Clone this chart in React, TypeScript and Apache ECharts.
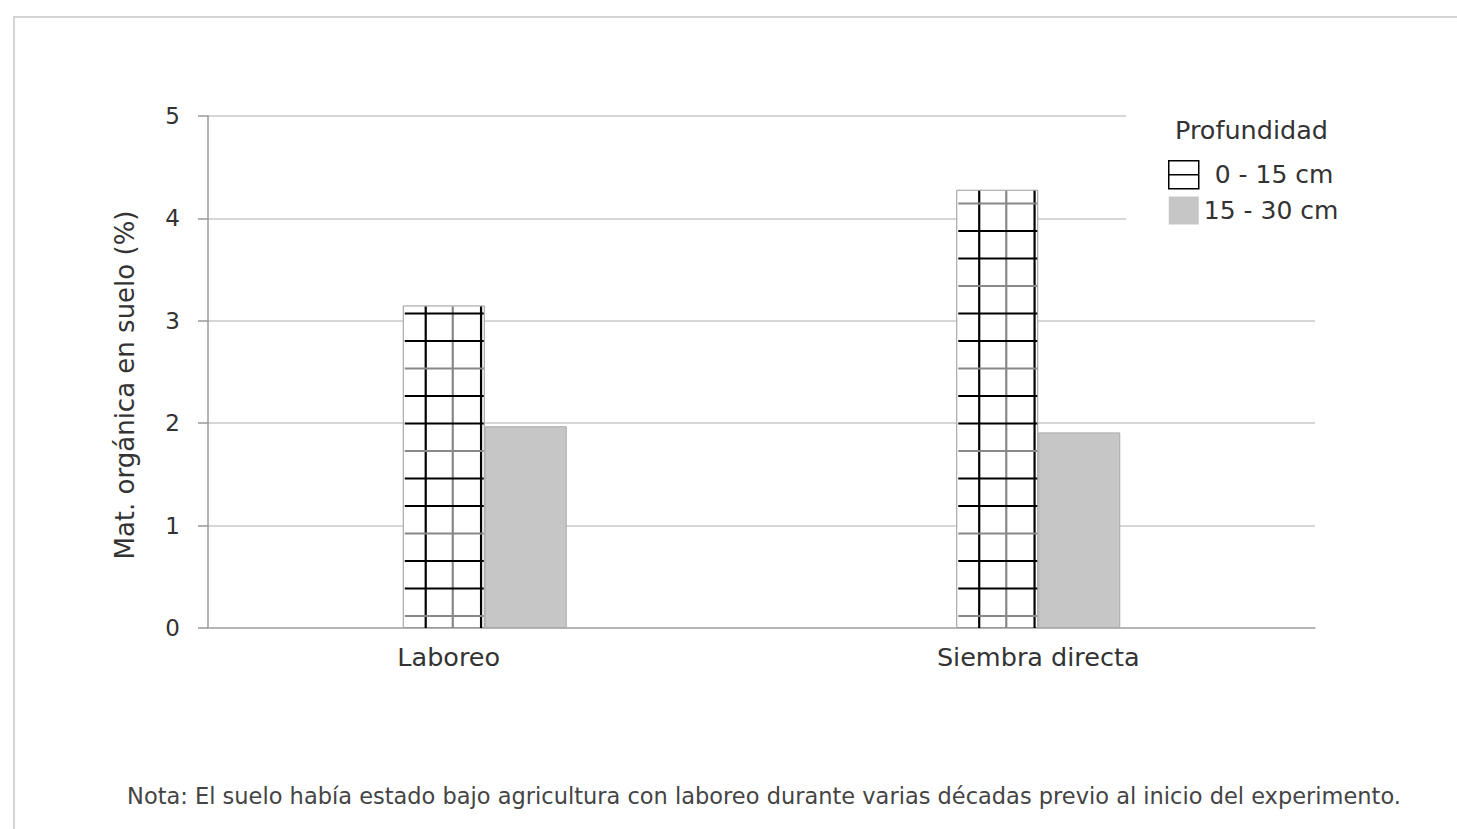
import React, { useEffect, useRef } from "react";
import * as echarts from "echarts";

const categories = ["Laboreo", "Siembra directa"];
const categoryLabelShift = [72, 0];
const depth0to15 = [3.15, 4.28];
const depth15to30 = [1.97, 1.91];
const seriesNames = ["0 - 15 cm", "15 - 30 cm"];
const yTicks = { min: 0, max: 5, interval: 1 };
const yAxisName = "Mat. orgánica en suelo (%)";
const legendTitle = "Profundidad";
const note =
  "Nota: El suelo había estado bajo agricultura con laboreo durante varias décadas previo al inicio del experimento.";

const FONT = "'DejaVu Sans', sans-serif";
const BAR_W = 82;

export default function App() {
  const ref = useRef<HTMLDivElement>(null);
  useEffect(() => {
    if (!ref.current) return;
    const chart = echarts.init(ref.current, undefined, { renderer: "svg" });
    const option: any = {
      animation: false,
      backgroundColor: "#ffffff",
      textStyle: { fontFamily: FONT },
      grid: { left: 208, right: 142, top: 116, bottom: 201, containLabel: false },
      title: {
        text: legendTitle,
        left: 1170,
        top: 112,
        textStyle: { fontFamily: FONT, fontSize: 25.5, fontWeight: "normal", color: "#333" },
        z: 10,
      },
      legend: {
        orient: "vertical",
        left: 1163,
        top: 155,
        itemWidth: 30,
        itemHeight: 28,
        itemGap: 7,
        z: 10,
        textStyle: { fontFamily: FONT, fontSize: 25, color: "#333" },
        data: [
          {
            name: seriesNames[0],
            icon: "path://M0,0H30V28H0Z M0,14H30",
            itemStyle: { color: "#ffffff", borderColor: "#000", borderWidth: 1.5 },
            textStyle: { padding: [0, 0, 0, 11] },
          },
          {
            name: seriesNames[1],
            icon: "rect",
            itemStyle: { color: "#c6c6c6", borderWidth: 0 },
          },
        ],
      },
      graphic: [
        {
          type: "rect",
          shape: { x: 14, y: 17, width: 1460, height: 830 },
          style: { fill: "none", stroke: "#d4d4d4", lineWidth: 2 },
          silent: true,
          z: 0,
        },
        {
          type: "rect",
          shape: { x: 1126, y: 100, width: 300, height: 135 },
          style: { fill: "#ffffff" },
          silent: true,
          z: 3,
        },
        {
          type: "text",
          x: 764,
          y: 796,
          style: {
            text: note,
            font: `22.5px ${FONT}`,
            fill: "#444",
            align: "center",
            verticalAlign: "middle",
          },
          z: 5,
        },
        {
          type: "text",
          x: 125,
          y: 385,
          rotation: Math.PI / 2,
          style: {
            text: yAxisName,
            font: `26px ${FONT}`,
            fill: "#333",
            align: "center",
            verticalAlign: "middle",
          },
          z: 5,
        },
      ],
      xAxis: {
        type: "category",
        data: categories.map((c, i) => ({
          value: c,
          textStyle: { padding: [0, categoryLabelShift[i], 0, 0] },
        })),
        axisLine: { show: true, lineStyle: { color: "#aaa", width: 1.5 } },
        axisTick: { show: false },
        axisLabel: { margin: 16, fontFamily: FONT, fontSize: 25.5, color: "#333" },
        splitLine: { show: false },
      },
      yAxis: {
        type: "value",
        min: yTicks.min,
        max: yTicks.max,
        interval: yTicks.interval,
        axisLine: { show: true, lineStyle: { color: "#999", width: 1.5 } },
        axisTick: { show: true, length: 10, lineStyle: { color: "#999", width: 1.5 } },
        axisLabel: { margin: 28, fontFamily: FONT, fontSize: 23, color: "#333" },
        splitLine: { show: true, lineStyle: { color: "#c8c8c8", width: 1.5 } },
      },
      series: [
        {
          name: seriesNames[0],
          type: "bar",
          data: depth0to15,
          barWidth: BAR_W,
          barGap: "0%",
          itemStyle: { color: "#ffffff", borderColor: "#999", borderWidth: 1 },
          z: 2,
        },
        {
          name: seriesNames[1],
          type: "bar",
          data: depth15to30,
          barWidth: BAR_W,
          barGap: "0%",
          itemStyle: { color: "#c6c6c6", borderColor: "#aaa", borderWidth: 1 },
          z: 2,
        },
        {
          type: "custom",
          name: "hatch",
          silent: true,
          z: 4,
          coordinateSystem: "cartesian2d",
          encode: { x: 0, y: 1 },
          data: categories.map((_, i) => [i, depth0to15[i]]),
          renderItem: (params: any, api: any) => {
            const idx = api.value(0);
            const v = api.value(1);
            const base = api.coord([idx, 0]);
            const top = api.coord([idx, v]);
            const x0 = base[0] - BAR_W;
            const x1 = base[0];
            const children: any[] = [];
            const verts: [number, string][] = [
              [0.28, "#000"],
              [0.61, "#888"],
              [0.955, "#000"],
            ];
            verts.forEach(([f, c]) => {
              const x = x0 + BAR_W * f;
              children.push({
                type: "line",
                shape: { x1: x, y1: top[1] + 1, x2: x, y2: base[1] },
                style: { stroke: c, lineWidth: 2.2 },
              });
            });
            const step = 27.5;
            for (let k = 0; ; k++) {
              const y = base[1] - 12 - step * k;
              if (y <= top[1] + 3) break;
              children.push({
                type: "line",
                shape: { x1: x0 + 2, y1: y, x2: x1 - 1, y2: y },
                style: { stroke: k % 3 === 0 ? "#888" : "#000", lineWidth: 2.2 },
              });
            }
            return { type: "group", children };
          },
        },
      ],
    };
    chart.setOption(option);
    return () => chart.dispose();
  }, []);
  return (
    <div
      ref={ref}
      style={{ position: "fixed", left: 0, top: 0, width: 1457, height: 829, background: "#fff" }}
    />
  );
}
